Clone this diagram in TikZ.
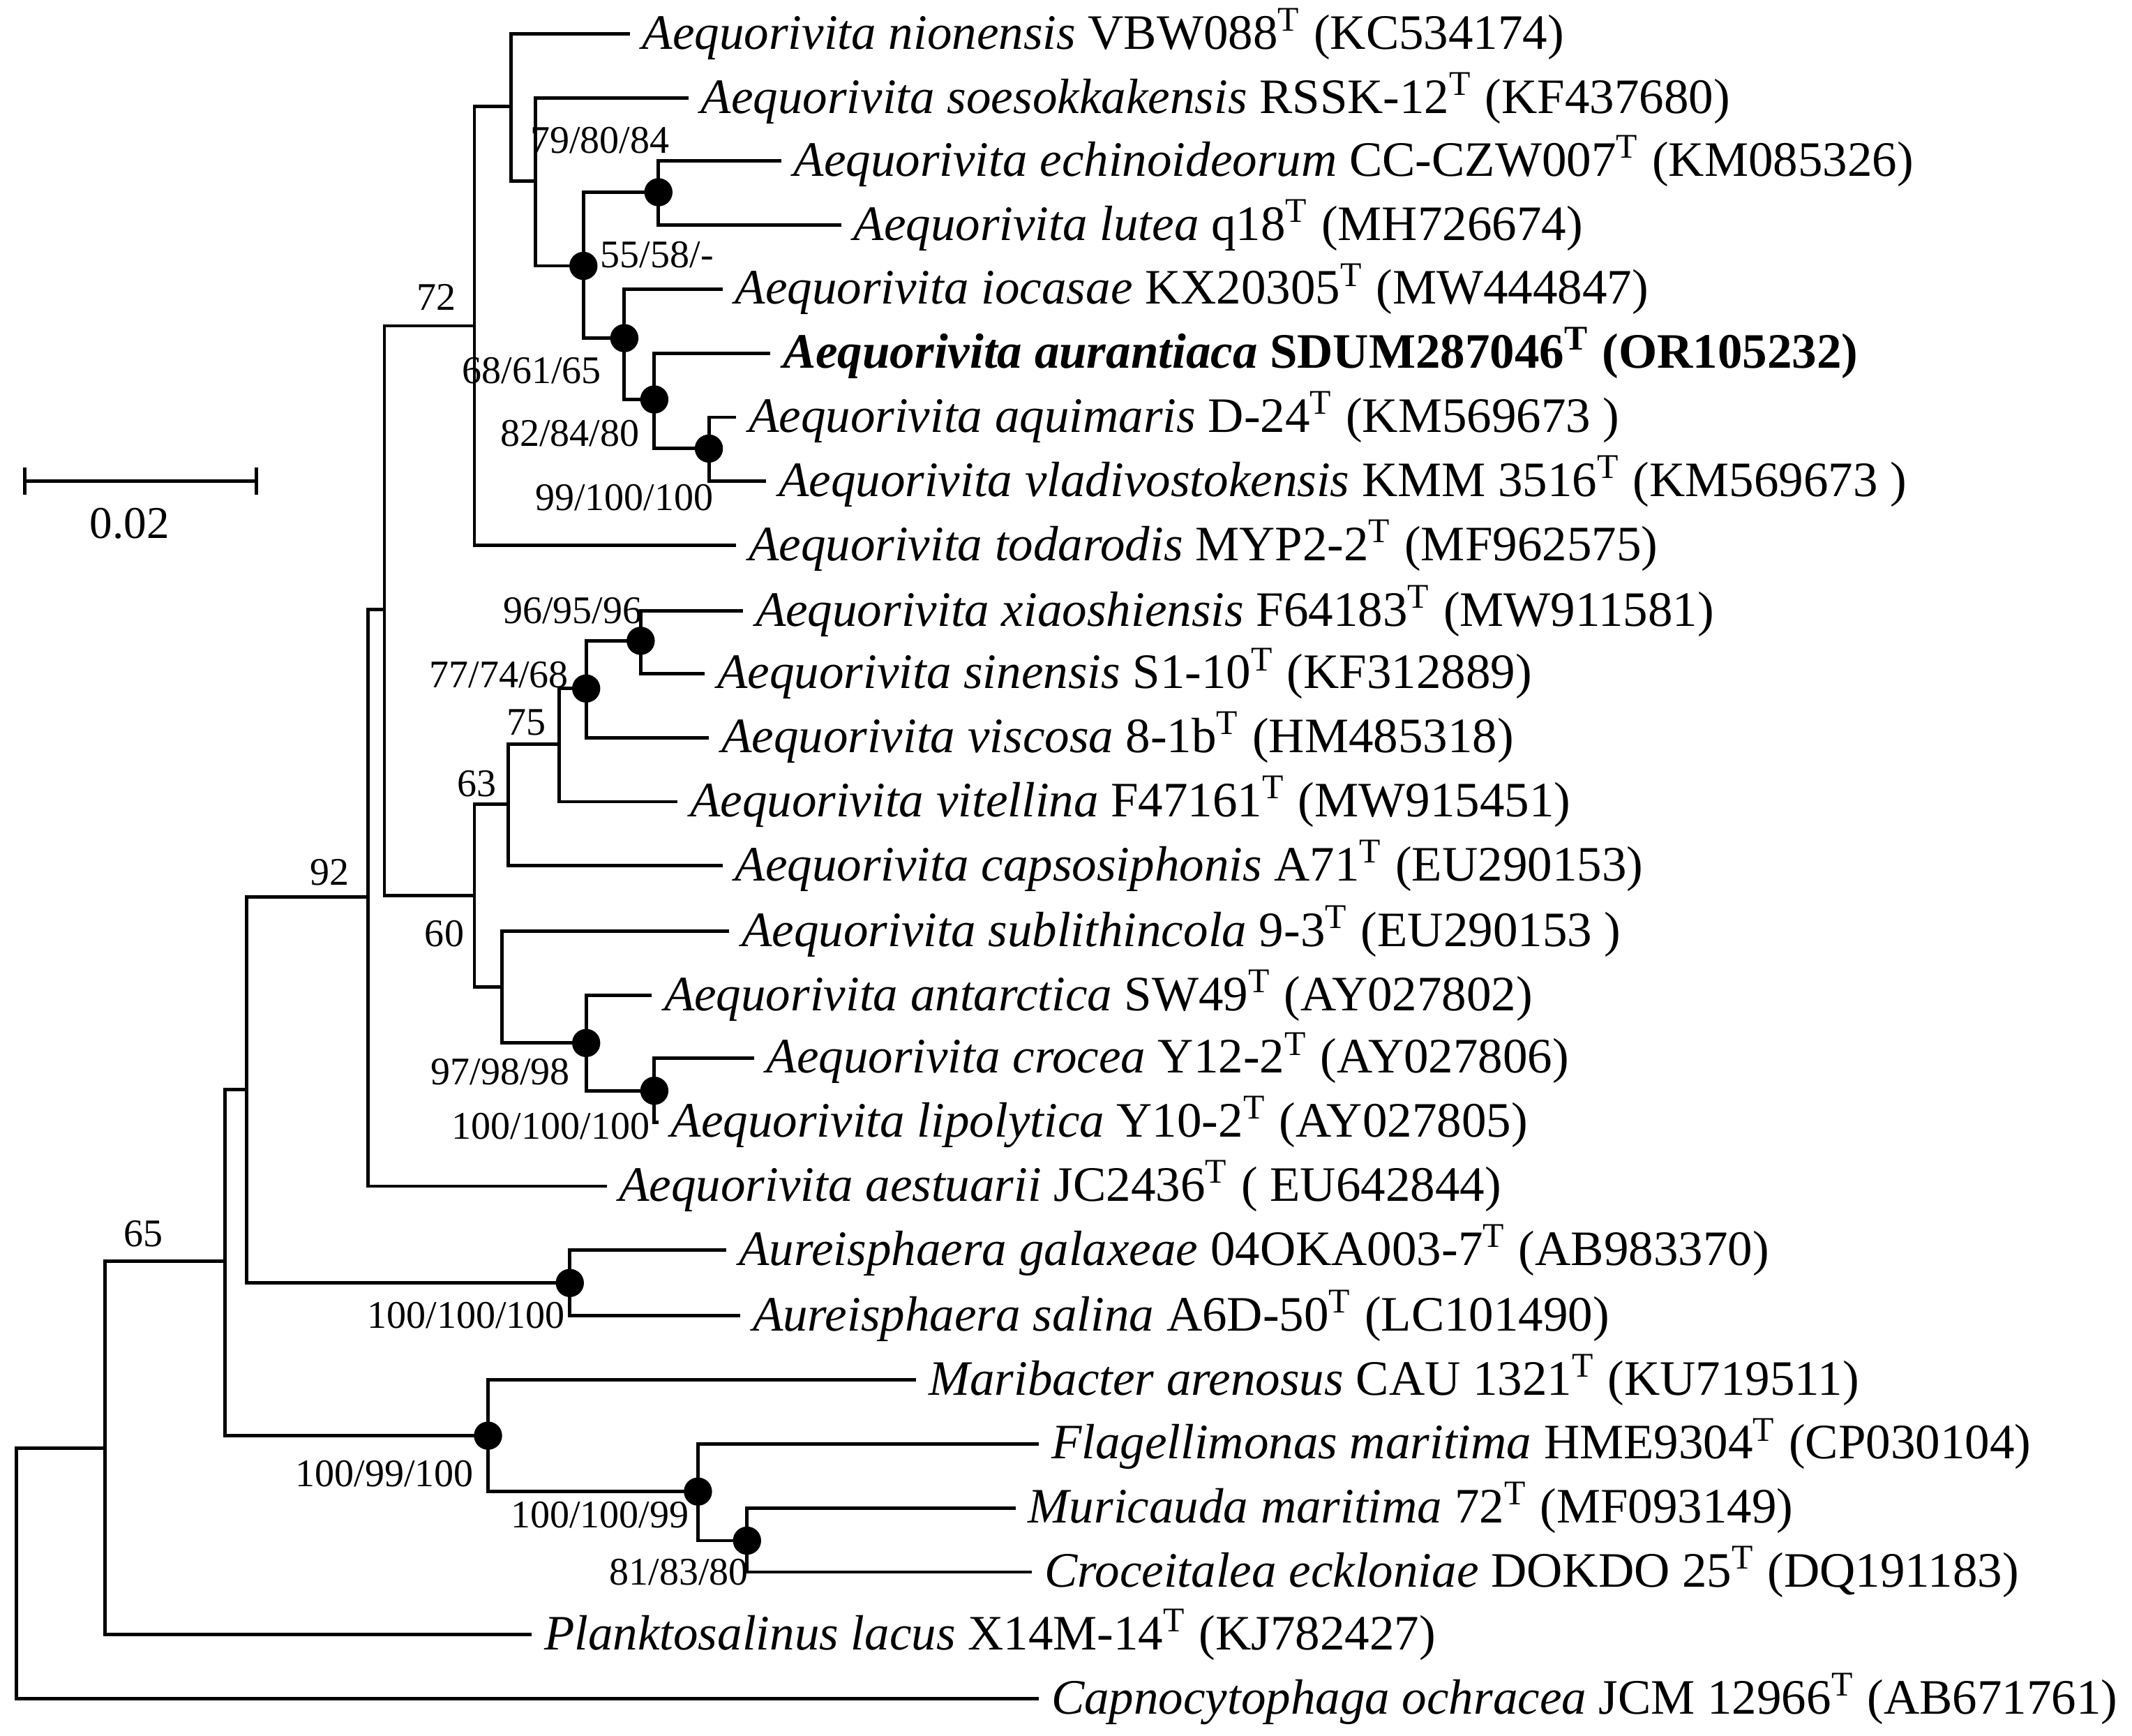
\documentclass[tikz,border=0pt]{standalone}
\usepackage{fontspec}
\setmainfont{Liberation Serif}
\begin{document}
\begin{tikzpicture}[x=0.3pt,y=-0.3pt,line width=0.75pt,
  tiplabel/.style={anchor=west,inner sep=2.4pt,font=\fontsize{10.9}{12}\selectfont},
  bs/.style={inner sep=0pt,font=\fontsize{8.6}{10}\selectfont},
  dot/.style={fill=black,circle,inner sep=0pt,minimum size=6.2pt}]
\useasboundingbox (0,0) rectangle (1564,1273);
\newcommand{\tip}[4]{\coordinate (#1) at (#2,#3); \node[tiplabel] (#1L) at (#2,#3) {#4};}
\newcommand{\sT}{\textsuperscript{T}}
% tips
\tip{t1}{462}{25}{\textit{Aequorivita nionensis} VBW088\sT{} (KC534174)}
\tip{t2}{505}{72}{\textit{Aequorivita soesokkakensis} RSSK-12\sT{} (KF437680)}
\tip{t3}{573}{118}{\textit{Aequorivita echinoideorum} CC-CZW007\sT{} (KM085326)}
\tip{t4}{617}{165}{\textit{Aequorivita lutea} q18\sT{} (MH726674)}
\tip{t5}{530}{212}{\textit{Aequorivita iocasae} KX20305\sT{} (MW444847)}
\tip{t6}{565}{259}{\textbf{\textit{Aequorivita aurantiaca} SDUM287046\sT{} (OR105232)}}
\tip{t7}{540}{306}{\textit{Aequorivita aquimaris} D-24\sT{} (KM569673 )}
\tip{t8}{562}{353}{\textit{Aequorivita vladivostokensis} KMM 3516\sT{} (KM569673 )}
\tip{t9}{540}{400}{\textit{Aequorivita todarodis} MYP2-2\sT{} (MF962575)}
\tip{t10}{545}{448}{\textit{Aequorivita xiaoshiensis} F64183\sT{} (MW911581)}
\tip{t11}{517}{494}{\textit{Aequorivita sinensis} S1-10\sT{} (KF312889)}
\tip{t12}{520}{541}{\textit{Aequorivita viscosa} 8-1b\sT{} (HM485318)}
\tip{t13}{497}{588}{\textit{Aequorivita vitellina} F47161\sT{} (MW915451)}
\tip{t14}{530}{635}{\textit{Aequorivita capsosiphonis} A71\sT{} (EU290153)}
\tip{t15}{535}{683}{\textit{Aequorivita sublithincola} 9-3\sT{} (EU290153 )}
\tip{t16}{478}{730}{\textit{Aequorivita antarctica} SW49\sT{} (AY027802)}
\tip{t17}{553}{776}{\textit{Aequorivita crocea} Y12-2\sT{} (AY027806)}
\tip{t18}{483}{823}{\textit{Aequorivita lipolytica} Y10-2\sT{} (AY027805)}
\tip{t19}{445}{870}{\textit{Aequorivita aestuarii} JC2436\sT{} ( EU642844)}
\tip{t20}{533}{917}{\textit{Aureisphaera galaxeae} 04OKA003-7\sT{} (AB983370)}
\tip{t21}{543}{965}{\textit{Aureisphaera salina} A6D-50\sT{} (LC101490)}
\tip{t22}{672}{1012}{\textit{Maribacter arenosus} CAU 1321\sT{} (KU719511)}
\tip{t23}{762}{1059}{\textit{Flagellimonas maritima} HME9304\sT{} (CP030104)}
\tip{t24}{745}{1106}{\textit{Muricauda maritima} 72\sT{} (MF093149)}
\tip{t25}{757}{1153}{\textit{Croceitalea eckloniae} DOKDO 25\sT{} (DQ191183)}
\tip{t26}{390}{1199}{\textit{Planktosalinus lacus} X14M-14\sT{} (KJ782427)}
\tip{t27}{762}{1246}{\textit{Capnocytophaga ochracea} JCM 12966\sT{} (AB671761)}
% internal nodes
\coordinate (r) at (12,1154);
\coordinate (n77) at (77,1062);
\coordinate (n165) at (165,925);
\coordinate (n181) at (181,799);
\coordinate (n270) at (270,658);
\coordinate (n282) at (282,447);
\coordinate (n348a) at (348,239);
\coordinate (nA) at (375,78);
\coordinate (nB) at (393,133);
\coordinate (nC) at (428,195);
\coordinate (nC1) at (483,141);
\coordinate (nC2) at (458,248);
\coordinate (nD) at (480,293);
\coordinate (nE) at (520,329);
\coordinate (n348b) at (348,657);
\coordinate (n373) at (373,590);
\coordinate (n410) at (410,546);
\coordinate (n430) at (430,505);
\coordinate (n470) at (470,470);
\coordinate (n368) at (368,724);
\coordinate (n430b) at (430,765);
\coordinate (n480) at (480,800);
\coordinate (n418) at (418,941);
\coordinate (n358) at (358,1053);
\coordinate (n512) at (512,1094);
\coordinate (n548) at (548,1130);
% edges
\foreach \p/\a/\b in {r/n77/t27, n77/n165/t26, n165/n181/n358, n181/n270/n418,
  n270/n282/t19, n282/n348a/n348b, n348a/nA/t9, nA/t1/nB, nB/t2/nC, nC/nC1/nC2,
  nC1/t3/t4, nC2/t5/nD, nD/t6/nE, nE/t7/t8, n348b/n373/n368, n373/n410/t14,
  n410/n430/t13, n430/n470/t12, n470/t10/t11, n368/t15/n430b, n430b/t16/n480,
  n480/t17/t18, n418/t20/t21, n358/t22/n512, n512/t23/n548, n548/t24/t25}
  {\draw (\p) |- (\a); \draw (\p) |- (\b);}
\foreach \n in {nC,nC1,nC2,nD,nE,n470,n430,n430b,n480,n418,n358,n512,n548}
  \node[dot] (d\n) at (\n) {};
% support values
\node[bs] (b1) at (440,103) {79/80/84};
\node[bs] (b2) at (482,187) {55/58/-};
\node[bs] (b3) at (390,272) {68/61/65};
\node[bs] (b4) at (418,318) {82/84/80};
\node[bs] (b5) at (458,365) {99/100/100};
\node[bs] (b6) at (420,448) {96/95/96};
\node[bs] (b7) at (366,495) {77/74/68};
\node[bs] (b8) at (386,530) {75};
\node[bs] (b9) at (350,575) {63};
\node[bs] (b10) at (326,685) {60};
\node[bs] (b11) at (367,786) {97/98/98};
\node[bs] (b12) at (404,826) {100/100/100};
\node[bs] (b13) at (342,965) {100/100/100};
\node[bs] (b14) at (282,1081) {100/99/100};
\node[bs] (b15) at (440,1111) {100/100/99};
\node[bs] (b16) at (498,1153) {81/83/80};
\node[bs] (b17) at (320,218) {72};
\node[bs] (b18) at (242,640) {92};
\node[bs] (b19) at (105,905) {65};
% scale bar
\coordinate (s1) at (18,353); \coordinate (s2) at (188,353);
\draw (s1) -- (s2);
\draw ([yshift=-3pt]s1) -- ([yshift=3pt]s1);
\draw ([yshift=-3pt]s2) -- ([yshift=3pt]s2);
\node[bs,font=\fontsize{10}{12}\selectfont] (sl) at (95,384) {0.02};
\end{tikzpicture}
\end{document}
